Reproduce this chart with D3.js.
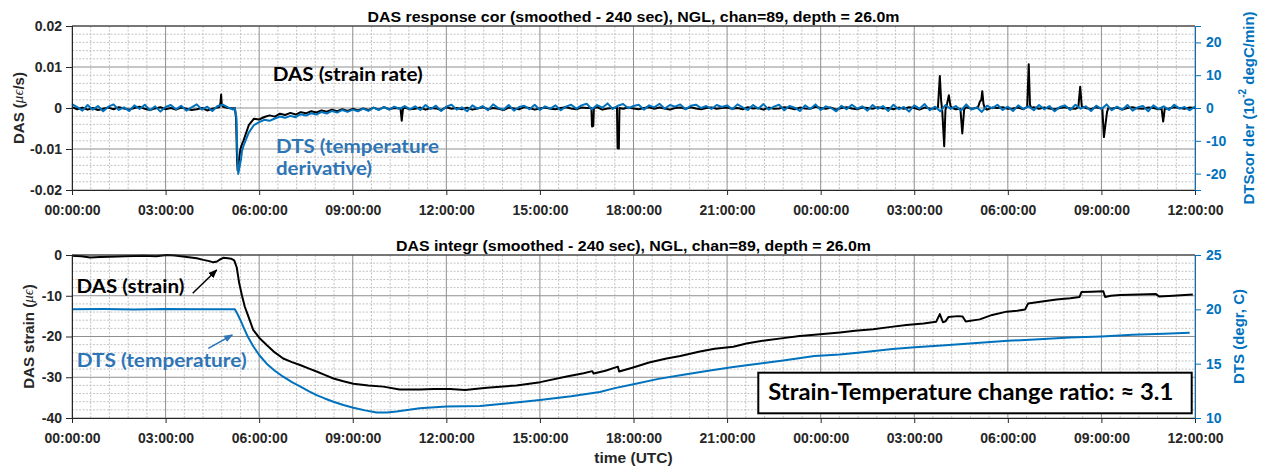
<!DOCTYPE html>
<html><head><meta charset="utf-8">
<script src="https://cdn.jsdelivr.net/npm/d3@7"></script>
<style>body{margin:0;background:#fff} svg{display:block}</style>
</head><body><svg id="c" width="1263" height="470"></svg>
<script>
// ---------------- DATA ----------------
const xTickHours = [0,3,6,9,12,15,18,21,24,27,30,33,36];
const topLeftTicks = [-0.02,-0.01,0,0.01,0.02];
const topRightTicks = [-20,-10,0,10,20];
const botLeftTicks = [-40,-30,-20,-10,0];
const botRightTicks = [10,15,20,25];

// top panel: DAS strain rate (units 1e-4 µε/s), one value every 10 min from 00:00
const rateStepMin = 10;
const dasRateBase = [
 2,-3,1,-4,0,-5,-2,1,-3,2,-1,-4,0,3,-2,-5,-1,2,-3,0,-4,1,-2,-5,-3,0,-6,-2,1,3,0,
 -1,-135,-79,-42,-26,-28,-22,-18,-21,-14,-17,-12,-16,-10,-13,-8,-11,-6,-9,-4,-8,-3,-7,-2,-6,-1,-5,1,-4,2,-3,0,-2,1,-3,
 -2,1,-4,0,-1,-5,2,-2,0,-3,1,-4,-1,2,-3,0,-2,-5,1,-1,-3,2,0,-4,-1,1,-2,-3,0,2,
 -1,-3,1,0,-2,2,-4,-1,0,3,-2,1,-1,-3,0,2,-2,1,-1,-4,0,1,-2,2,-1,-3,0,1,-2,0,
 1,-2,0,-3,2,-1,0,-4,1,-2,-1,2,0,-3,1,-1,-2,3,0,-2,1,-4,0,2,-1,-3,1,0,-2,2,
 -1,0,-3,1,-2,2,0,-4,1,-1,-2,3,-1,0,-3,1,2,-2,0,-1,-4,1,0,2,-2,-1,1,-3,0,2,
 -2,1,-1,-3,0,2,-1,-2,1,0,-3,2,-1,0,-2,1,-4,0,2,-1,-2,1,0,-3,1,-1,2,0,-2,1,0
];
// short events (spikes, drop) in the DAS rate: hour and value (1e-4 µε/s)
const dasRateEventT = [4.72,4.76,4.78,4.80,4.84, 5.22,5.26,5.29,5.31,5.35,5.40,5.45,
 10.53,10.57,10.61, 16.65,16.67,16.71,16.73, 17.47,17.49,17.53,17.55,
 27.76,27.82,27.86,27.90,27.96,28.0,28.05,28.11,28.16,28.22, 28.48,28.54,28.60,
 29.05,29.10,29.15,29.18,29.22,29.26, 30.62,30.67,30.71,30.75, 32.26,32.32,32.37,
 33.03,33.08,33.13,33.18,33.22, 34.93,34.98,35.03];
const dasRateEventV = [2,12,33,8,3, 0,-25,-125,-152,-128,-100,-88,
 -1,-31,-2, 0,-45,-44,0, 1,-98,-99,0,
 2,78,20,-10,-93,-5,10,31,5,0, -2,-62,-3,
 3,15,20,41,10,0, 3,107,8,0, 2,52,4,
 -2,-71,-40,-10,0, -2,-33,-2];

// top panel: DTS temperature derivative (1e-2 degC/min), every 10 min
const dtsRateBase = [
 1.2,0.3,-0.8,0.9,-0.5,0.6,-1.0,0.4,1.1,-0.6,0.2,-0.9,0.8,-0.3,1.0,-0.7,0.5,-1.1,0.3,0.9,-0.4,0.7,-0.8,0.2,1.1,-0.5,0.4,-0.9,0.6,1.0,0.2,
 -0.5,-19,-11.5,-7.5,-5.2,-4.3,-3.6,-3.9,-3.2,-2.6,-3.0,-2.4,-2.8,-1.9,-2.3,-1.6,-2.0,-1.2,-1.7,-0.9,-1.4,-0.6,-1.2,-0.5,-1.0,-0.2,-0.9,0.1,-0.6,0.3,-0.5,0.4,-0.3,0.6,-0.4,
 0.5,-0.6,0.9,-0.3,0.7,-0.9,0.4,1.0,-0.5,0.2,-1.0,0.8,-0.2,0.6,-0.7,1.1,0.0,-0.5,0.9,-0.8,0.3,0.7,-0.4,1.0,-0.6,0.5,-0.2,0.8,-0.7,0.4,
 1.0,-0.2,0.8,1.3,-0.4,0.9,0.1,1.4,-0.3,0.7,1.2,-0.1,0.6,1.0,-0.5,0.8,0.2,1.3,-0.2,0.9,0.4,1.1,-0.4,0.7,1.0,0.0,0.6,-0.3,0.9,0.3,
 0.8,-0.4,1.1,0.2,-0.6,0.9,-0.2,1.2,-0.5,0.4,1.0,-0.7,0.6,0.1,-0.9,0.8,-0.3,1.1,-0.6,0.5,0.0,-1.0,0.7,-0.4,1.0,-0.2,0.5,-0.8,0.9,-0.3,
 0.6,-0.9,1.0,-0.4,0.3,-1.1,0.8,-0.2,1.2,-0.7,0.4,-1.0,0.9,-0.3,0.6,-0.8,1.1,-0.5,0.2,-1.2,0.7,-0.1,1.0,-0.6,0.4,-0.9,0.8,-0.3,0.5,-0.7,
 0.9,-0.4,0.6,-1.0,0.3,0.8,-0.6,1.0,-0.2,0.5,-0.9,0.7,-0.3,1.1,-0.7,0.4,-0.5,0.9,-0.8,0.2,0.6,-1.0,0.8,-0.3,0.5,-0.6,1.0,-0.2,0.3,-0.7,0.4
];
const dtsRateEventT = [5.22,5.27,5.30,5.33,5.37,5.42,5.45];
const dtsRateEventV = [0,-3,-14,-20.1,-18,-15.5,-13];

// bottom panel: DAS strain (µε)
const dasStrainT = [0,0.3,0.58,0.9,1.22,1.7,2.29,2.7,3.04,3.3,3.68,4.0,4.21,4.4,4.53,4.65,4.74,4.85,5.0,5.1,5.2,5.28,5.36,5.45,5.54,5.65,5.81,6.0,6.24,6.5,6.77,7.05,7.31,7.6,7.84,8.1,8.38,8.7,9.02,9.5,9.98,10.5,11.15,11.6,12.12,12.6,13.3,14.25,15.01,15.86,16.4,16.68,16.72,17.1,17.5,17.54,17.99,18.5,19.06,19.5,20.13,20.6,21.2,21.62,22.27,22.8,23.33,23.8,24.62,25.1,25.68,26.2,26.75,27.3,27.7,27.82,27.92,28.0,28.1,28.4,28.55,28.65,29.1,29.5,29.96,30.3,30.55,30.65,31.1,31.56,32.0,32.3,32.36,32.7,33.06,33.12,33.3,33.6,34.2,34.75,34.85,35.3,35.93];
const dasStrainV = [-0.2,-0.3,-0.6,-0.5,-0.4,-0.3,-0.2,-0.3,0.0,-0.1,-0.5,-0.8,-1.2,-1.5,-1.8,-1.6,-1.1,-0.7,-0.8,-0.9,-1.3,-3.0,-6.9,-10.0,-12.7,-15.0,-18.4,-20.3,-22.1,-23.9,-25.4,-26.3,-27.0,-27.9,-28.6,-29.4,-30.3,-31.0,-31.6,-32.0,-32.3,-33.0,-33.0,-32.9,-32.9,-33.1,-32.6,-32.0,-31.2,-29.8,-29.0,-28.5,-29.1,-28.4,-27.4,-28.6,-27.6,-26.4,-25.4,-24.8,-23.7,-23.0,-22.5,-21.7,-20.9,-20.4,-19.9,-19.6,-19.0,-18.6,-18.2,-17.7,-17.2,-16.8,-16.4,-14.5,-16.5,-16.3,-15.2,-15.0,-15.1,-16.3,-15.8,-14.7,-13.9,-13.7,-13.4,-11.9,-11.4,-10.9,-10.6,-10.3,-9.1,-9.0,-8.9,-10.3,-10.0,-9.8,-9.7,-9.6,-10.2,-10.0,-9.7];

// bottom panel: DTS temperature (degC)
const dtsTempT = [0,1,2,3,4,5.0,5.22,5.3,5.4,5.49,5.65,5.81,6.0,6.24,6.5,6.77,7.05,7.31,7.6,7.84,8.1,8.38,8.7,9.02,9.4,9.76,10.1,10.4,11.15,12.0,13.08,14.0,15.0,16.0,16.92,17.4,18.0,18.8,19.55,20.4,21.2,22.0,22.8,23.8,24.62,25.5,26.3,27.02,28.0,29.0,30.0,31.0,32.0,33.0,34.0,35.0,35.83];
const dtsTempV = [20.0,20.02,19.98,20.03,20.0,20.0,20.0,19.6,19.0,18.4,17.4,16.6,15.8,15.0,14.35,13.8,13.3,12.9,12.45,12.1,11.8,11.5,11.2,10.95,10.7,10.5,10.5,10.6,10.9,11.05,11.1,11.35,11.65,12.0,12.4,12.75,13.1,13.6,13.95,14.35,14.7,15.0,15.3,15.7,15.85,16.1,16.35,16.5,16.7,16.9,17.1,17.25,17.4,17.5,17.65,17.75,17.85];

// ---------------- DRAW ----------------
const svg = d3.select("#c");
svg.append("rect").attr("width",1263).attr("height",470).attr("fill","#fff");
const FONT = "'Liberation Sans', Arial, sans-serif";
const ANN = "Lato, 'Open Sans', sans-serif";
const BLUE = "#0072BD", BLUE_TXT = "#2E75B6", AX = "#262626";
const X0 = 72, X1 = 1195;
const x = d3.scaleLinear().domain([0,36]).range([X0,X1]);

function mergeSeries(base, evT, evV){
  const pts = base.map((v,i)=>[i*rateStepMin/60, v])
    .filter(p=>!evT.some(t=>Math.abs(t-p[0])<0.045));
  evT.forEach((t,i)=>pts.push([t, evV[i]]));
  return pts.sort((a,b)=>a[0]-b[0]);
}

function panel(cfg){
  const g = svg.append("g");
  const yL = d3.scaleLinear().domain(cfg.leftDomain).range([cfg.y1,cfg.y0]);
  const yR = d3.scaleLinear().domain(cfg.rightDomain).range([cfg.y1,cfg.y0]);
  const vMinor = d3.range(0,36.0001,0.6).filter(h=>Math.abs(h/3-Math.round(h/3))>1e-6);
  g.append("g").selectAll("line").data(vMinor).join("line")
    .attr("x1",d=>x(d)).attr("x2",d=>x(d)).attr("y1",cfg.y0).attr("y2",cfg.y1)
    .attr("stroke","#bdbdbd").attr("stroke-width",0.9).attr("stroke-dasharray","2,1.5");
  const [lo,hi] = cfg.leftDomain;
  const hMinor = d3.range(lo,hi+1e-9,cfg.minorStep).filter(v=>Math.abs(v/cfg.majorStep-Math.round(v/cfg.majorStep))>1e-6);
  g.append("g").selectAll("line").data(hMinor).join("line")
    .attr("x1",X0).attr("x2",X1).attr("y1",d=>yL(d)).attr("y2",d=>yL(d))
    .attr("stroke","#bdbdbd").attr("stroke-width",0.9).attr("stroke-dasharray","2,1.5");
  g.append("g").selectAll("line").data(xTickHours).join("line")
    .attr("x1",d=>x(d)).attr("x2",d=>x(d)).attr("y1",cfg.y0).attr("y2",cfg.y1)
    .attr("stroke","#8f8f8f").attr("stroke-width",1);
  g.append("g").selectAll("line").data(cfg.leftTicks).join("line")
    .attr("x1",X0).attr("x2",X1).attr("y1",d=>yL(d)).attr("y2",d=>yL(d))
    .attr("stroke","#8f8f8f").attr("stroke-width",1);

  const lineL = d3.line().x(d=>x(d[0])).y(d=>yL(d[1]));
  const lineR = d3.line().x(d=>x(d[0])).y(d=>yR(d[1]));
  cfg.draw(g, lineL, lineR);

  g.append("line").attr("x1",X0).attr("x2",X1).attr("y1",cfg.y0).attr("y2",cfg.y0).attr("stroke",AX).attr("stroke-width",1);

  const xa = g.append("g").attr("transform",`translate(0,${cfg.y1})`)
    .call(d3.axisBottom(x).tickValues(xTickHours).tickSize(5).tickPadding(10)
      .tickFormat(h=>d3.format("02")(h%24)+":00:00"));
  const ya = g.append("g").attr("transform",`translate(${X0},0)`)
    .call(d3.axisLeft(yL).tickValues(cfg.leftTicks).tickSize(6).tickPadding(4).tickFormat(cfg.leftFmt));
  const yr = g.append("g").attr("transform",`translate(${X1},0)`)
    .call(d3.axisRight(yR).tickValues(cfg.rightTicks).tickSize(6).tickPadding(5).tickFormat(d=>String(d)));
  [xa,ya].forEach(a=>{a.select(".domain").attr("stroke",AX).attr("stroke-width",1);
    a.selectAll(".tick line").attr("stroke",AX);
    a.selectAll("text").attr("font-family",FONT).attr("font-weight","bold").attr("font-size",14).attr("fill",AX);});
  yr.select(".domain").attr("stroke",BLUE).attr("stroke-width",1);
  yr.selectAll(".tick line").attr("stroke",BLUE);
  yr.selectAll("text").attr("font-family",FONT).attr("font-weight","bold").attr("font-size",14).attr("fill",BLUE);

  g.append("text").attr("x",(X0+X1)/2).attr("y",cfg.titleY).attr("text-anchor","middle")
    .attr("font-family",FONT).attr("font-weight","bold").attr("font-size",14)
    .attr("textLength",cfg.titleLen).attr("lengthAdjust","spacingAndGlyphs").attr("fill","#000").text(cfg.title);
  return {yL,yR};
}

const topPanel = panel({
  y0:26, y1:190, leftDomain:[-0.02,0.02], rightDomain:[-25,25],
  leftTicks:topLeftTicks, rightTicks:topRightTicks, minorStep:0.002, majorStep:0.01,
  leftFmt:d=>d===0?"0":d3.format(".2f")(d).replace("−","-"),
  title:"DAS response cor (smoothed - 240 sec), NGL, chan=89, depth = 26.0m", titleY:21.5, titleLen:532,
  draw:(g,lineL,lineR)=>{
    const das = mergeSeries(dasRateBase,dasRateEventT,dasRateEventV).map(p=>[p[0],p[1]*1e-4]);
    const dts = mergeSeries(dtsRateBase,dtsRateEventT,dtsRateEventV);
    g.append("path").attr("d",lineL(das)).attr("fill","none").attr("stroke","#000").attr("stroke-width",2).attr("stroke-linejoin","round");
    g.append("path").attr("d",lineR(dts)).attr("fill","none").attr("stroke",BLUE).attr("stroke-width",2).attr("stroke-linejoin","round");
  }
});

const botPanel = panel({
  y0:255, y1:418, leftDomain:[-40,0], rightDomain:[10,25],
  leftTicks:botLeftTicks, rightTicks:botRightTicks, minorStep:2, majorStep:10,
  leftFmt:d=>String(d),
  title:"DAS integr (smoothed - 240 sec), NGL, chan=89, depth = 26.0m", titleY:250.5, titleLen:475,
  draw:(g,lineL,lineR)=>{
    g.append("path").attr("d",lineL(dasStrainT.map((t,i)=>[t,dasStrainV[i]]))).attr("fill","none").attr("stroke","#000").attr("stroke-width",2).attr("stroke-linejoin","round");
    g.append("path").attr("d",lineR(dtsTempT.map((t,i)=>[t,dtsTempV[i]]))).attr("fill","none").attr("stroke",BLUE).attr("stroke-width",2).attr("stroke-linejoin","round");
  }
});

function vlabel(xp,yp,color,parts){
  const t = svg.append("text").attr("transform",`translate(${xp},${yp}) rotate(-90)`)
    .attr("text-anchor","middle").attr("dominant-baseline","central")
    .attr("font-family",FONT).attr("font-weight","bold").attr("font-size",15).attr("fill",color);
  parts.forEach(p=>{
    const s = t.append("tspan").text(p.t);
    if(p.it) s.attr("font-style","italic").attr("font-weight","normal").attr("font-family","'Liberation Serif','DejaVu Serif',serif");
    if(p.sup) s.attr("font-size",10).attr("dy",-6);
    if(p.down) s.attr("dy",6);
  });
}
vlabel(17.5,108,AX,[{t:"DAS ("},{t:"μϵ",it:true},{t:"/s)"}]);
vlabel(28.3,336.5,AX,[{t:"DAS strain ("},{t:"μϵ",it:true},{t:")"}]);
vlabel(1248,108,BLUE,[{t:"DTScor der (10"},{t:"-2",sup:true},{t:" degC/min)",down:true}]);
vlabel(1238,336.5,BLUE,[{t:"DTS (degr, C)"}]);
svg.append("text").attr("x",633.5).attr("y",463).attr("text-anchor","middle")
  .attr("font-family",FONT).attr("font-weight","bold").attr("font-size",15.5).attr("fill",AX).text("time (UTC)");

function ann(xp,yp,txt,color,size,len){
  svg.append("text").attr("x",xp).attr("y",yp).attr("font-family",ANN).attr("font-weight","bold")
    .attr("font-size",size).attr("fill",color).attr("textLength",len).attr("lengthAdjust","spacingAndGlyphs").text(txt);
}
ann(272.7,81,"DAS (strain rate)","#000",19.5,150);
ann(276,153.3,"DTS (temperature",BLUE_TXT,19.5,163);
ann(276,175,"derivative)",BLUE_TXT,19.5,96);
ann(76.5,292.7,"DAS (strain)","#000",19.5,108);
ann(76.7,367.3,"DTS (temperature)",BLUE_TXT,19.5,170);

const defs = svg.append("defs");
[["ahK","#000"],["ahB",BLUE_TXT]].forEach(([id,c])=>{
  defs.append("marker").attr("id",id).attr("viewBox","0 0 10 10").attr("refX",9).attr("refY",5)
    .attr("markerWidth",9).attr("markerHeight",9).attr("markerUnits","userSpaceOnUse").attr("orient","auto")
    .append("path").attr("d","M0,1 L10,5 L0,9 Z").attr("fill",c);
});
svg.append("line").attr("x1",192.7).attr("y1",293.3).attr("x2",216.7).attr("y2",270)
  .attr("stroke","#000").attr("stroke-width",1.5).attr("marker-end","url(#ahK)");
svg.append("line").attr("x1",208.3).attr("y1",348.3).attr("x2",232.3).attr("y2",335)
  .attr("stroke",BLUE_TXT).attr("stroke-width",1.5).attr("marker-end","url(#ahB)");

svg.append("rect").attr("x",758.3).attr("y",372.7).attr("width",433.4).attr("height",40.6)
  .attr("fill","#fff").attr("stroke","#000").attr("stroke-width",2);
ann(768.3,400,"Strain-Temperature change ratio: ≈ 3.1","#000",22,405);
</script></body></html>
